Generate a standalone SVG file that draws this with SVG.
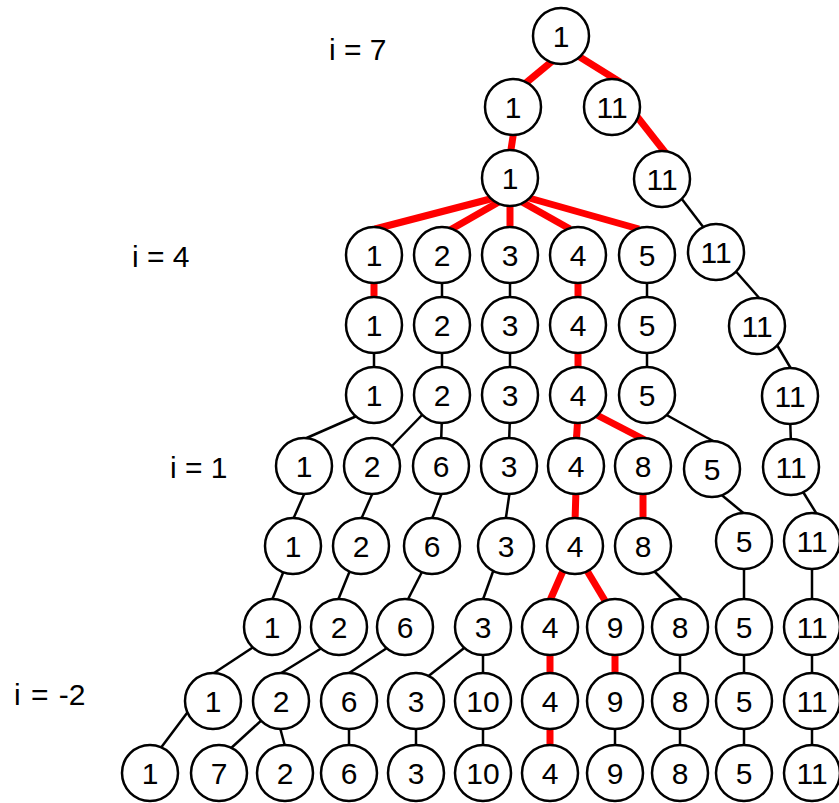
<svg xmlns="http://www.w3.org/2000/svg" width="839" height="803" viewBox="0 0 839 803">
<style>
.bg{fill:#ffffff}
circle{fill:#ffffff;stroke:#000000;stroke-width:2.5}
text{font-family:"Liberation Sans",Arial,sans-serif;font-size:30px;fill:#000000;text-anchor:middle}
.lbl{text-anchor:start}
.e{stroke:#000000;stroke-width:2.5;fill:none}
.r{stroke:#ff0000;stroke-width:7;fill:none}
</style>
<rect class="bg" x="0" y="0" width="839" height="803"/>
<g id="labels">
<text class="lbl" x="329" y="60">i = 7</text>
<text class="lbl" x="132" y="267">i = 4</text>
<text class="lbl" x="170" y="478">i = 1</text>
<text class="lbl" x="14" y="705" word-spacing="2">i = -2</text>
</g>
<g id="connectors">
<line class="r" x1="556" y1="58" x2="521" y2="87"/>
<line class="r" x1="575" y1="54" x2="620" y2="82"/>
<line class="r" x1="514" y1="130" x2="510" y2="156"/>
<line class="r" x1="635" y1="114" x2="668" y2="156"/>
<line class="r" x1="498" y1="197" x2="375" y2="229"/>
<line class="r" x1="504" y1="199" x2="450" y2="230"/>
<line class="r" x1="510" y1="200" x2="510" y2="232"/>
<line class="r" x1="515" y1="198" x2="570" y2="229"/>
<line class="r" x1="522" y1="196" x2="639" y2="229"/>
<line class="e" x1="678" y1="194" x2="707" y2="232"/>
<line class="r" x1="374" y1="270" x2="374" y2="310"/>
<line class="e" x1="442" y1="270" x2="442" y2="310"/>
<line class="e" x1="510" y1="270" x2="510" y2="310"/>
<line class="r" x1="578" y1="270" x2="578" y2="310"/>
<line class="e" x1="647" y1="270" x2="647" y2="310"/>
<line class="e" x1="732" y1="267" x2="761" y2="300"/>
<line class="e" x1="374" y1="340" x2="374" y2="380"/>
<line class="e" x1="442" y1="340" x2="442" y2="380"/>
<line class="e" x1="510" y1="340" x2="510" y2="380"/>
<line class="r" x1="578" y1="340" x2="578" y2="380"/>
<line class="e" x1="647" y1="340" x2="647" y2="380"/>
<line class="e" x1="774" y1="340" x2="793" y2="372"/>
<line class="e" x1="359" y1="415" x2="302" y2="440"/>
<line class="e" x1="423" y1="414" x2="391" y2="447"/>
<line class="e" x1="442" y1="415" x2="441" y2="445"/>
<line class="e" x1="510" y1="415" x2="509" y2="445"/>
<line class="r" x1="578" y1="415" x2="576" y2="445"/>
<line class="r" x1="591" y1="412" x2="645" y2="440"/>
<line class="e" x1="663" y1="413" x2="715" y2="442"/>
<line class="e" x1="790" y1="415" x2="791" y2="445"/>
<line class="e" x1="306" y1="490" x2="291" y2="524"/>
<line class="e" x1="374" y1="490" x2="359" y2="524"/>
<line class="e" x1="443" y1="490" x2="430" y2="524"/>
<line class="e" x1="510" y1="490" x2="505" y2="524"/>
<line class="r" x1="576" y1="490" x2="575" y2="522"/>
<line class="r" x1="643" y1="490" x2="643" y2="522"/>
<line class="e" x1="718" y1="492" x2="747" y2="516"/>
<line class="e" x1="800" y1="487" x2="818" y2="516"/>
<line class="e" x1="285" y1="568" x2="270" y2="605"/>
<line class="e" x1="351" y1="568" x2="336" y2="605"/>
<line class="e" x1="424" y1="568" x2="405" y2="605"/>
<line class="e" x1="495" y1="566" x2="481" y2="605"/>
<line class="r" x1="566" y1="564" x2="548" y2="605"/>
<line class="r" x1="583" y1="564" x2="607" y2="604"/>
<line class="e" x1="649" y1="566" x2="684" y2="601"/>
<line class="e" x1="744" y1="565" x2="744" y2="605"/>
<line class="e" x1="812" y1="565" x2="812" y2="605"/>
<line class="e" x1="255" y1="646" x2="211" y2="675"/>
<line class="e" x1="325" y1="646" x2="278" y2="675"/>
<line class="e" x1="390" y1="646" x2="346" y2="675"/>
<line class="e" x1="468" y1="645" x2="426" y2="678"/>
<line class="e" x1="483" y1="645" x2="483" y2="685"/>
<line class="r" x1="550" y1="645" x2="550" y2="685"/>
<line class="r" x1="615" y1="645" x2="615" y2="685"/>
<line class="e" x1="680" y1="645" x2="680" y2="685"/>
<line class="e" x1="744" y1="645" x2="744" y2="685"/>
<line class="e" x1="812" y1="645" x2="812" y2="685"/>
<line class="e" x1="190" y1="709" x2="160" y2="749"/>
<line class="e" x1="264" y1="718" x2="229" y2="750"/>
<line class="e" x1="279" y1="724" x2="286" y2="750"/>
<line class="e" x1="349" y1="720" x2="349" y2="757"/>
<line class="e" x1="416" y1="720" x2="416" y2="757"/>
<line class="e" x1="483" y1="720" x2="483" y2="757"/>
<line class="r" x1="550" y1="720" x2="550" y2="757"/>
<line class="e" x1="615" y1="720" x2="615" y2="757"/>
<line class="e" x1="680" y1="720" x2="680" y2="757"/>
<line class="e" x1="744" y1="720" x2="744" y2="757"/>
<line class="e" x1="812" y1="720" x2="812" y2="757"/>
</g>
<g id="n0_0"><circle cx="561" cy="36" r="28"/><text x="561" y="47">1</text></g>
<g id="n1_0"><circle cx="513" cy="107" r="28"/><text x="513" y="118">1</text></g>
<g id="n1_1"><circle cx="612" cy="107" r="28"/><text x="612" y="118">11</text></g>
<g id="n2_0"><circle cx="510" cy="178" r="28"/><text x="510" y="189">1</text></g>
<g id="n2_1"><circle cx="662" cy="179" r="28"/><text x="662" y="190">11</text></g>
<g id="n3_0"><circle cx="374" cy="255" r="28"/><text x="374" y="266">1</text></g>
<g id="n3_1"><circle cx="442" cy="255" r="28"/><text x="442" y="266">2</text></g>
<g id="n3_2"><circle cx="510" cy="255" r="28"/><text x="510" y="266">3</text></g>
<g id="n3_3"><circle cx="578" cy="255" r="28"/><text x="578" y="266">4</text></g>
<g id="n3_4"><circle cx="647" cy="255" r="28"/><text x="647" y="266">5</text></g>
<g id="n3_5"><circle cx="716" cy="252" r="28"/><text x="716" y="263">11</text></g>
<g id="n4_0"><circle cx="374" cy="325" r="28"/><text x="374" y="336">1</text></g>
<g id="n4_1"><circle cx="442" cy="325" r="28"/><text x="442" y="336">2</text></g>
<g id="n4_2"><circle cx="510" cy="325" r="28"/><text x="510" y="336">3</text></g>
<g id="n4_3"><circle cx="578" cy="325" r="28"/><text x="578" y="336">4</text></g>
<g id="n4_4"><circle cx="647" cy="325" r="28"/><text x="647" y="336">5</text></g>
<g id="n4_5"><circle cx="757" cy="326" r="28"/><text x="757" y="337">11</text></g>
<g id="n5_0"><circle cx="374" cy="395" r="28"/><text x="374" y="406">1</text></g>
<g id="n5_1"><circle cx="442" cy="395" r="28"/><text x="442" y="406">2</text></g>
<g id="n5_2"><circle cx="510" cy="395" r="28"/><text x="510" y="406">3</text></g>
<g id="n5_3"><circle cx="578" cy="395" r="28"/><text x="578" y="406">4</text></g>
<g id="n5_4"><circle cx="647" cy="395" r="28"/><text x="647" y="406">5</text></g>
<g id="n5_5"><circle cx="790" cy="396" r="28"/><text x="790" y="407">11</text></g>
<g id="n6_0"><circle cx="304" cy="466" r="28"/><text x="304" y="477">1</text></g>
<g id="n6_1"><circle cx="372" cy="466" r="28"/><text x="372" y="477">2</text></g>
<g id="n6_2"><circle cx="441" cy="466" r="28"/><text x="441" y="477">6</text></g>
<g id="n6_3"><circle cx="509" cy="466" r="28"/><text x="509" y="477">3</text></g>
<g id="n6_4"><circle cx="576" cy="466" r="28"/><text x="576" y="477">4</text></g>
<g id="n6_5"><circle cx="643" cy="466" r="28"/><text x="643" y="477">8</text></g>
<g id="n6_6"><circle cx="712" cy="469" r="28"/><text x="712" y="480">5</text></g>
<g id="n6_7"><circle cx="791" cy="467" r="28"/><text x="791" y="478">11</text></g>
<g id="n7_0"><circle cx="293" cy="546" r="28"/><text x="293" y="557">1</text></g>
<g id="n7_1"><circle cx="361" cy="546" r="28"/><text x="361" y="557">2</text></g>
<g id="n7_2"><circle cx="432" cy="546" r="28"/><text x="432" y="557">6</text></g>
<g id="n7_3"><circle cx="506" cy="546" r="28"/><text x="506" y="557">3</text></g>
<g id="n7_4"><circle cx="575" cy="546" r="28"/><text x="575" y="557">4</text></g>
<g id="n7_5"><circle cx="643" cy="546" r="28"/><text x="643" y="557">8</text></g>
<g id="n7_6"><circle cx="744" cy="541" r="28"/><text x="744" y="552">5</text></g>
<g id="n7_7"><circle cx="812" cy="541" r="28"/><text x="812" y="552">11</text></g>
<g id="n8_0"><circle cx="272" cy="627" r="28"/><text x="272" y="638">1</text></g>
<g id="n8_1"><circle cx="339" cy="627" r="28"/><text x="339" y="638">2</text></g>
<g id="n8_2"><circle cx="405" cy="627" r="28"/><text x="405" y="638">6</text></g>
<g id="n8_3"><circle cx="483" cy="627" r="28"/><text x="483" y="638">3</text></g>
<g id="n8_4"><circle cx="550" cy="627" r="28"/><text x="550" y="638">4</text></g>
<g id="n8_5"><circle cx="615" cy="627" r="28"/><text x="615" y="638">9</text></g>
<g id="n8_6"><circle cx="680" cy="627" r="28"/><text x="680" y="638">8</text></g>
<g id="n8_7"><circle cx="744" cy="627" r="28"/><text x="744" y="638">5</text></g>
<g id="n8_8"><circle cx="812" cy="627" r="28"/><text x="812" y="638">11</text></g>
<g id="n9_0"><circle cx="213" cy="701" r="28"/><text x="213" y="712">1</text></g>
<g id="n9_1"><circle cx="281" cy="701" r="28"/><text x="281" y="712">2</text></g>
<g id="n9_2"><circle cx="349" cy="701" r="28"/><text x="349" y="712">6</text></g>
<g id="n9_3"><circle cx="416" cy="701" r="28"/><text x="416" y="712">3</text></g>
<g id="n9_4"><circle cx="483" cy="701" r="28"/><text x="483" y="712">10</text></g>
<g id="n9_5"><circle cx="550" cy="701" r="28"/><text x="550" y="712">4</text></g>
<g id="n9_6"><circle cx="615" cy="701" r="28"/><text x="615" y="712">9</text></g>
<g id="n9_7"><circle cx="680" cy="701" r="28"/><text x="680" y="712">8</text></g>
<g id="n9_8"><circle cx="744" cy="701" r="28"/><text x="744" y="712">5</text></g>
<g id="n9_9"><circle cx="812" cy="701" r="28"/><text x="812" y="712">11</text></g>
<g id="n10_0"><circle cx="150" cy="773" r="28"/><text x="150" y="784">1</text></g>
<g id="n10_1"><circle cx="219" cy="773" r="28"/><text x="219" y="784">7</text></g>
<g id="n10_2"><circle cx="285" cy="773" r="28"/><text x="285" y="784">2</text></g>
<g id="n10_3"><circle cx="349" cy="773" r="28"/><text x="349" y="784">6</text></g>
<g id="n10_4"><circle cx="416" cy="773" r="28"/><text x="416" y="784">3</text></g>
<g id="n10_5"><circle cx="483" cy="773" r="28"/><text x="483" y="784">10</text></g>
<g id="n10_6"><circle cx="550" cy="773" r="28"/><text x="550" y="784">4</text></g>
<g id="n10_7"><circle cx="615" cy="773" r="28"/><text x="615" y="784">9</text></g>
<g id="n10_8"><circle cx="680" cy="773" r="28"/><text x="680" y="784">8</text></g>
<g id="n10_9"><circle cx="744" cy="773" r="28"/><text x="744" y="784">5</text></g>
<g id="n10_10"><circle cx="812" cy="773" r="28"/><text x="812" y="784">11</text></g>
</svg>
